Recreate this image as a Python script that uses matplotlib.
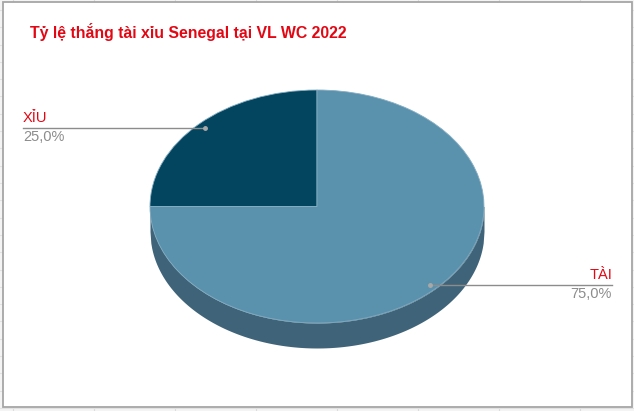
import numpy as np
import matplotlib.pyplot as plt
from matplotlib.patches import Rectangle

# data
labels = ['XỈU', 'TÀI']
values = [25.0, 75.0]
colors = ['#03445e', '#5a92ae']
side_color = '#3f6479'
title = 'Tỷ lệ thắng tài xỉu Senegal tại VL WC 2022'

W, H = 634, 411
fig = plt.figure(figsize=(W / 100, H / 100), dpi=100)

# background sheet + chart box, pixel coords
bg = fig.add_axes([0, 0, 1, 1])
bg.set_xlim(0, W)
bg.set_ylim(H, 0)
bg.axis('off')
bg.add_patch(Rectangle((0, 0), W, H, facecolor='#f4f4f4', edgecolor='none', zorder=0))
for cx in np.arange(13, W, 81):
    bg.plot([cx, cx], [0, H], color='#dcdcdc', lw=0.8, zorder=1)
for ry in np.arange(10, H, 17.3):
    bg.plot([0, W], [ry, ry], color='#e2e2e2', lw=0.8, zorder=1)
bg.add_patch(Rectangle((3, 2), 629, 405, facecolor='white', edgecolor='#a6a6a6', lw=1.3, zorder=2))

bg.text(30, 32, title, color='#e30613', fontsize=11.4, fontweight='bold',
        family='Liberation Sans', va='center', ha='left', zorder=5)

# pie (elliptical by using a non-square axes)
rx, ry, depth = 167, 116.5, 25
cx0, cy0 = 317, 206.5
d = depth / ry
pax = fig.add_axes([(cx0 - rx) / W, (H - (cy0 + ry + depth)) / H,
                    2 * rx / W, (2 * ry + depth) / H])
pax.set_xlim(-1, 1)
pax.set_ylim(-1 - d, 1)
pax.axis('off')

xs = np.linspace(-1, 1, 400)
low = -np.sqrt(1 - xs ** 2)
pax.fill_between(xs, low - d, low, color=side_color, lw=0, zorder=1)
pax.fill_between(xs, low, 0, color=side_color, lw=0, zorder=1)

wedges, _ = pax.pie(values, colors=colors, startangle=90, counterclock=True,
                    radius=1, center=(0, 0), frame=False,
                    wedgeprops=dict(edgecolor='#86aec3', linewidth=0.6))
for w in wedges:
    w.set_zorder(2)
pax.set_xlim(-1, 1)
pax.set_ylim(-1 - d, 1)
pax.set_aspect('auto')

# labels with leader lines (overlay on top of the pie)
ov = fig.add_axes([0, 0, 1, 1])
ov.set_xlim(0, W)
ov.set_ylim(H, 0)
ov.axis('off')
ov.patch.set_alpha(0)

pct = [('%.1f%%' % v).replace('.', ',') for v in values]
# XỈU (left)
ov.plot([23, 205], [128, 128], color='#8c8c8c', lw=1)
ov.plot([205], [128], 'o', color='#a8a8a8', ms=2.5)
ov.text(23, 125, labels[0], color='#e30613', fontsize=10.5, family='Liberation Sans',
        ha='left', va='bottom')
ov.text(23, 130, pct[0], color='#8c8c8c', fontsize=10.5, family='Liberation Sans',
        ha='left', va='top')
# TÀI (right)
ov.plot([430, 612], [285, 285], color='#8c8c8c', lw=1)
ov.plot([430], [285], 'o', color='#a8a8a8', ms=2.5)
ov.text(612, 282, labels[1], color='#e30613', fontsize=10.5, family='Liberation Sans',
        ha='right', va='bottom')
ov.text(612, 287, pct[1], color='#8c8c8c', fontsize=10.5, family='Liberation Sans',
        ha='right', va='top')

fig.savefig('out.png', dpi=100)
